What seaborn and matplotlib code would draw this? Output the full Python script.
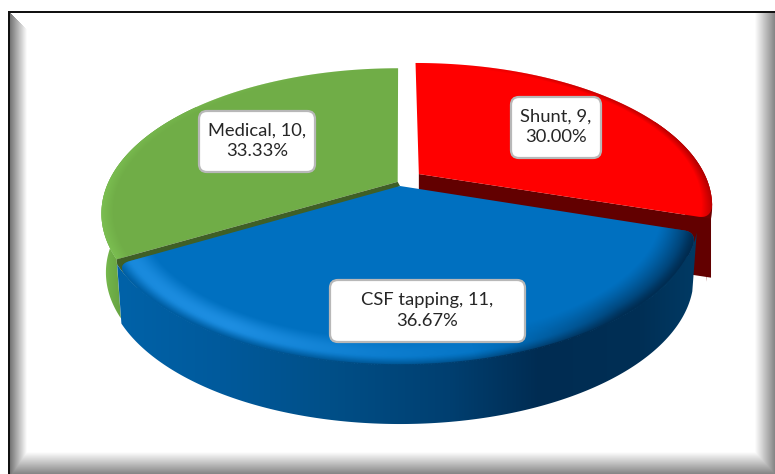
import numpy as np
import matplotlib
matplotlib.use("Agg")
import matplotlib.pyplot as plt
import seaborn as sns
from matplotlib.collections import LineCollection
from matplotlib.colors import to_rgb
from matplotlib.patches import FancyBboxPatch, Polygon

# --- data ---
categories = ["Shunt", "CSF tapping", "Medical"]
counts = [9, 11, 10]
percents = ["30.00%", "36.67%", "33.33%"]

# --- look ---
top_colors = ["#ff0000", "#0070c0", "#70ad47"]
W, H = 775, 474
X0, Y0 = 400, 186      # where the undisplaced apex lands, in pixels
AX, BY, K = 291, 140, 0.218   # perspective of the disc
DEPTH = 59
BOTTOM_SCALE = 0.985
slice_shift = [(0.066, 0.087), (0.0, 0.0), (-0.008, 0.03)]
label_boxes = [(511, 97, 90, 61), (330, 280, 195, 62), (199, 111, 116, 61)]
blue_wall_x = [118, 220, 330, 450, 540, 640, 695]
blue_wall_colors = ["#0062a8", "#005a9c", "#004f88", "#003f70", "#002c52", "#002f55", "#003a64"]

sns.set_theme(style="white")
plt.rcParams["font.family"] = ["Lato", "DejaVu Sans"]

fig = plt.figure(figsize=(W / 100, H / 100), dpi=100)
ax = fig.add_axes([0, 0, 1, 1])
wedges, _ = ax.pie(counts, startangle=90, counterclock=False, colors=top_colors)
angles = [(w.theta1, w.theta2) for w in wedges]
for w in wedges:
    w.remove()
ax.set_aspect("auto")
ax.axis("off")

yy, xx = np.mgrid[0:H, 0:W] + 0.5


def project(u, v):
    d = 1 + K * v
    return X0 + AX * u / d, Y0 - BY * v / d


def unproject(x, y):
    a = (x - X0) / AX
    b = (Y0 - y) / BY
    v = b / (1 - K * b)
    return a * (1 + K * v), v


def arc_points(t1, t2, shift):
    t = np.radians(np.linspace(t1, t2, 300))
    x, y = project(np.cos(t) + shift[0], np.sin(t) + shift[1])
    return np.column_stack([x, y])


def soften(corner, toward, path, s):
    # quadratic corner between a straight edge and the arc
    p0 = corner + s * (toward - corner) / np.linalg.norm(toward - corner)
    dist = np.cumsum(np.linalg.norm(np.diff(path, axis=0), axis=1))
    n = np.searchsorted(dist, s) + 1
    t = np.linspace(0, 1, 20)[:, None]
    curve = (1 - t) ** 2 * p0 + 2 * t * (1 - t) * corner + t ** 2 * path[n]
    return curve, path[n + 1:]


def top_outline(arc, apex, round_start, round_end, s=13):
    pts = arc
    head = []
    tail = []
    if round_start:
        head, pts = soften(pts[0], apex, pts, s)
    if round_end:
        curve, rest = soften(pts[-1], apex, pts[::-1], s)
        pts = rest[::-1]
        tail = curve[::-1]
    parts = [apex[None, :]]
    if len(head):
        parts.append(head)
    parts.append(pts)
    if len(tail):
        parts.append(tail)
    return np.vstack(parts)


def lower(pts, depth=DEPTH):
    out = pts.copy()
    out[:, 0] = X0 + (pts[:, 0] - X0) * BOTTOM_SCALE
    out[:, 1] = pts[:, 1] + depth
    return out


def side_gradient(poly, xs, cols, z):
    patch = Polygon(poly, closed=True, fc="none", ec="none", zorder=z)
    ax.add_patch(patch)
    cols = np.array([to_rgb(c) for c in cols])
    row = np.stack([np.interp(np.arange(W) + 0.5, xs, cols[:, i]) for i in range(3)], axis=1)
    im = ax.imshow(np.tile(row[None, :, :], (H, 1, 1)), extent=(0, W, H, 0), aspect="auto",
                   zorder=z, interpolation="bilinear")
    im.set_clip_path(patch)


def rim_shade(poly, shift, r0, stops, z, profile):
    # stops: (angle in degrees 0-360, colour, alpha) along the rim
    patch = Polygon(poly, closed=True, fc="none", ec="none", zorder=z)
    ax.add_patch(patch)
    u, v = unproject(xx, yy)
    u, v = u - shift[0], v - shift[1]
    r = np.hypot(u, v)
    th = np.degrees(np.arctan2(v, u)) % 360
    t = np.clip((r - r0) / (1 - r0), 0, 1)
    sa = [s[0] for s in stops]
    cols = np.array([to_rgb(s[1]) for s in stops])
    alpha = np.interp(th, sa, [s[2] for s in stops]) * profile(t)
    rgba = np.dstack([np.interp(th, sa, cols[:, i]) for i in range(3)] + [np.clip(alpha, 0, 1)])
    im = ax.imshow(rgba, extent=(0, W, H, 0), aspect="auto", zorder=z, interpolation="bilinear")
    im.set_clip_path(patch)


# frame with bevelled edges
left = np.clip((27 - xx) / 17, 0, 1) * 0.55
left[(yy - 13) < (xx - 10)] = 0
right = np.clip((xx - 755) / 20, 0, 1) * 0.48
bottom = np.clip((yy - 452) / 22, 0, 1) * 0.48
shade = np.maximum.reduce([left, right, bottom])
bg = np.dstack([1 - shade] * 3)
bg[yy < 11] = 1
bg[xx < 8] = 1
bg[(yy >= 11) & (yy < 13) & (xx >= 8)] = 0.07
bg[(xx >= 8) & (xx < 10.5) & (yy >= 11)] = 0.07
ax.imshow(bg, extent=(0, W, H, 0), aspect="auto", zorder=0, interpolation="nearest")

arcs = [arc_points(angles[i][0], angles[i][1], slice_shift[i]) for i in range(3)]
apexes = [np.array(project(*slice_shift[i])) for i in range(3)]

# red: rim wall on the visible part of the arc, wall along the cut, top
i = 0
red_arc = arcs[i][:120]
ax.add_patch(Polygon(np.vstack([red_arc, lower(red_arc, DEPTH + 4)[::-1]]), fc="#6d0000", ec="none", zorder=2))
tip = arcs[i][0]
ax.add_patch(Polygon([apexes[i], tip, tip + [0, DEPTH], apexes[i] + [0, DEPTH]],
                     fc="#620000", ec="none", zorder=2))
red_top = top_outline(arcs[i], apexes[i], True, False)
ax.add_patch(Polygon(red_top, fc=top_colors[i], ec="none", zorder=3))
rim_shade(red_top, slice_shift[i], 0.965,
          [(0, "#a00000", 0.9), (50, "#a00000", 0.6), (80, "#a00000", 0.0), (340, "#a00000", 0.6), (360, "#a00000", 0.9)],
          4, lambda t: t)

# green, its cut edge is the last point of the arc
i = 2
green_arc = arcs[i][-170:]
side_gradient(np.vstack([green_arc, lower(green_arc)[::-1]]), [103, 110, 125],
              ["#7cc052", "#70b048", "#639f3e"], 2)
green_top = top_outline(arcs[i], apexes[i], False, False)
ax.add_patch(Polygon(green_top, fc=top_colors[i], ec="none", zorder=3))
rim_shade(green_top, slice_shift[i], 0.96,
          [(90, "#7cc052", 0.0), (150, "#7cc052", 0.4), (185, "#7cc052", 0.9), (210, "#7cc052", 0.9)],
          4, lambda t: t)

# blue goes last, it sits in front of both
i = 1
side_gradient(np.vstack([arcs[i], lower(arcs[i])[::-1]]), blue_wall_x, blue_wall_colors, 6)
blue_top = top_outline(arcs[i], apexes[i], True, True)
# dark cut of the green slice, it wraps the rounded blue corner
ax.add_patch(Polygon(np.vstack([apexes[2], arcs[2][-1], arcs[i][:40], apexes[i]]),
                     fc="#3f5f26", ec="none", zorder=5))
ax.add_patch(Polygon(blue_top, fc=top_colors[i], ec="none", zorder=7))
rim_shade(blue_top, slice_shift[i], 0.88,
          [(210, "#2a9bf0", 0.6), (240, "#2a9bf0", 0.7), (265, "#2a9bf0", 0.35), (285, "#2a9bf0", 0.1), (300, "#2a9bf0", 0.0)],
          8, lambda t: np.sin(np.pi * t ** 1.2))
rim_shade(blue_top, slice_shift[i], 0.96,
          [(210, "#005a9c", 0.8), (270, "#004f88", 0.9), (300, "#003f70", 0.9)],
          9, lambda t: t ** 1.5)
rim_shade(blue_top, slice_shift[i], 0.88,
          [(282, "#00294c", 0.0), (310, "#00294c", 0.9), (342, "#00294c", 1.0)],
          9, lambda t: t ** 1.2)

# stroke along the front edge so no base colour peeks out of the clipped shading
rim = arcs[i][20:-20]
wall_rgb = np.array([to_rgb(c) for c in blue_wall_colors])
seg_colors = np.column_stack([np.interp(rim[:-1, 0], blue_wall_x, wall_rgb[:, c]) for c in range(3)])
ax.add_collection(LineCollection(np.stack([rim[:-1], rim[1:]], axis=1), colors=seg_colors, lw=1.2, zorder=9.5))

# data labels
for name, n, pct, (bx, by, bw, bh) in zip(categories, counts, percents, label_boxes):
    ax.add_patch(FancyBboxPatch((bx + 7, by + 7), bw - 14, bh - 14,
                                boxstyle="round,pad=7,rounding_size=8", fc="white", ec="#b8b8b8",
                                lw=1.6, zorder=10, mutation_aspect=1))
    ax.text(bx + bw / 2, by + bh / 2 - 0.5, f"{name}, {n},\n{pct}", ha="center", va="center",
            fontsize=13.2, color="#262626", linespacing=1.36, zorder=11)

ax.set_xlim(0, W)
ax.set_ylim(H, 0)
fig.savefig("out.png", dpi=100)
